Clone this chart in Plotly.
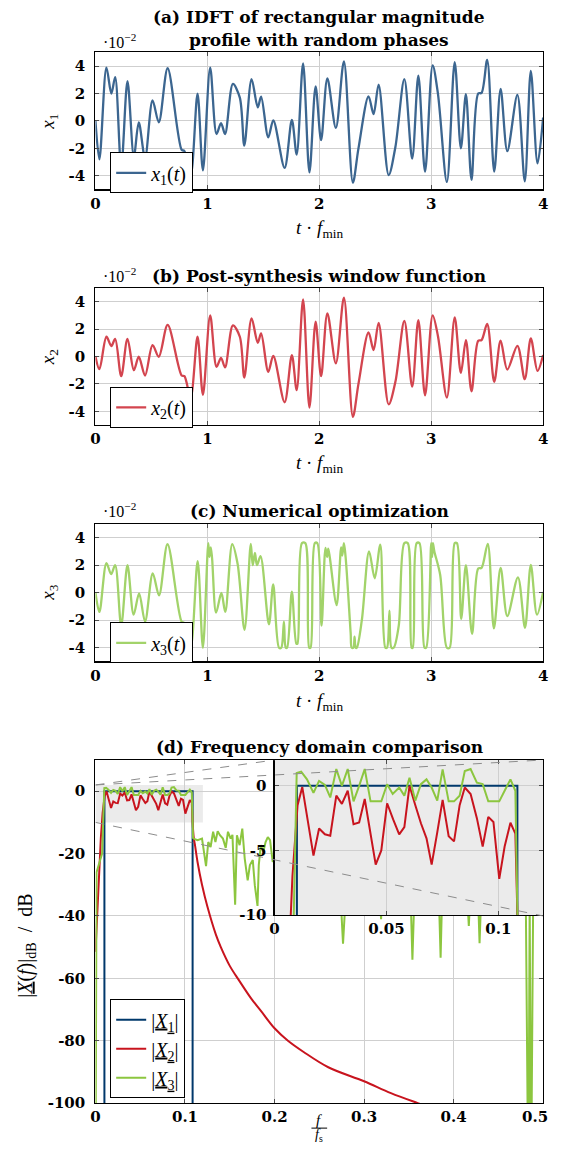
import plotly.graph_objects as go

# ---------------- data (time domain, values in units of 1e-2) ----------------
t12 = [0, 0.035, 0.098, 0.142, 0.176, 0.23, 0.286, 0.343, 0.387, 0.443, 0.51, 0.566, 0.645,
       0.77, 0.795, 0.85, 0.912, 0.96, 1.025, 1.082, 1.122, 1.158, 1.228, 1.29, 1.33, 1.395,
       1.45, 1.48, 1.544, 1.589, 1.69, 1.755, 1.798, 1.855, 1.912, 1.967, 2.016, 2.072, 2.148,
       2.22, 2.30, 2.35, 2.44, 2.485, 2.53, 2.62, 2.68, 2.76, 2.83, 2.885, 2.945, 3.013, 3.06,
       3.14, 3.21, 3.265, 3.31, 3.36, 3.42, 3.45, 3.50, 3.563, 3.62, 3.68, 3.77, 3.836, 3.89,
       3.95, 4.0]
x1 = [0, -2.8, 3.9, 2.0, 3.2, -3.4, 2.9, -2.6, -0.1, -2.7, 1.5, -0.1, 3.85,
      -2.1, -2.2, -4.0, 2.0, -3.6, 3.9, -0.95, -0.15, -0.95, 2.7, 1.7, -1.8, 3.05,
      1.0, 1.78, -1.2, 0.05, -3.42, 0.08, -2.45, 4.2, -3.75, 2.52, -1.4, 3.1, -0.5,
      4.35, -4.5, -2.0, 1.8, 0.5, 2.65, -3.95, -1.9, 3.05, -2.75, 3.3, -3.7, 4.05, 2.0,
      -4.45, 4.3, -2.0, 1.95, -4.3, 2.0, 2.05, 4.45, -3.7, 2.35, -2.2, 1.9, -4.4, 3.65,
      -3.1, 0.25]
x2 = [0, -0.93, 1.44, 0.76, 1.29, -1.44, 1.29, -1.0, -0.02, -1.39, 0.83, -0.02, 2.3,
      -1.39, -1.44, -3.0, 1.44, -2.8, 3.0, -0.76, -0.1, -0.8, 2.27, 1.44, -1.54, 2.78,
      1.0, 1.68, -1.12, 0.05, -3.34, 0.1, -2.46, 4.17, -3.73, 2.54, -1.44, 3.15, -0.5,
      4.3, -4.4, -2.0, 1.76, 0.46, 2.46, -3.5, -1.85, 2.59, -2.2, 2.66, -2.83, 3.0, 1.5,
      -3.0, 2.85, -1.2, 1.2, -2.54, 1.15, 1.2, 2.37, -1.85, 1.15, -0.95, 0.78, -1.66, 1.32,
      -1.05, 0.1]

t3 = [0, 0.035, 0.098, 0.14, 0.176, 0.23, 0.286, 0.341, 0.39, 0.443, 0.512, 0.568, 0.644,
      0.77, 0.795, 0.85, 0.913, 0.96, 1.008, 1.018, 1.03, 1.042, 1.078, 1.125, 1.16, 1.222,
      1.27, 1.332, 1.388, 1.405, 1.425, 1.443, 1.475, 1.55, 1.588, 1.64, 1.66, 1.684, 1.70,
      1.712, 1.755, 1.795, 1.805, 1.845, 1.875, 1.91, 1.922, 1.96, 1.982, 2.02, 2.055, 2.07,
      2.08, 2.095, 2.155, 2.195, 2.205, 2.22, 2.235, 2.28, 2.29, 2.305, 2.315, 2.325, 2.335,
      2.38, 2.445, 2.495, 2.545, 2.59, 2.605, 2.627, 2.645, 2.665, 2.71, 2.76, 2.79, 2.825,
      2.835, 2.87, 2.895, 2.94, 2.955, 3.0, 3.008, 3.015, 3.028, 3.08, 3.14, 3.165, 3.21,
      3.23, 3.268, 3.31, 3.365, 3.42, 3.45, 3.505, 3.56, 3.62, 3.68, 3.775, 3.838, 3.89,
      3.945, 4.0]
x3 = [0, -1.4, 2.15, 1.35, 2.0, -2.4, 2.0, -1.6, -0.05, -2.1, 1.4, -0.2, 3.52,
      -2.1, -2.2, -4.0, 2.3, -4.0, 3.6, 2.6, 3.3, 2.5, -1.45, -0.02, -1.4, 3.52,
      2.1, -2.7, 3.55, 2.0, 2.9, 2.0, 2.65, -2.3, 0.6, -4.0, -4.0, -2.1, -4.0,
      -4.0, 0.08, -3.7, -3.7, 3.6, 3.6, -4.0, -4.0, 3.6, 3.6, -2.4, 3.25, 2.6,
      3.2, 2.5, -0.9, 3.3, 2.7, 3.6, 2.6, -2.9, -4.0, -4.0, -3.2, -4.0, -4.0,
      -2.0, 3.0, 1.05, 3.5, -4.0, -4.0, -1.3, -4.0, -4.0, -2.4, 3.6, 3.6, -4.0,
      -4.0, 3.6, 3.6, -4.0, -4.0, 3.6, 2.6, 3.6, 3.0, 1.3, -4.0, -4.0, 3.6,
      3.6, -1.9, 2.0, -3.0, 1.75, 1.8, 3.55, -2.6, 1.8, -1.7, 1.12, -2.55, 2.02,
      -1.6, 0.05]

# ---------------- data (frequency domain, dB) ----------------
f_X1 = [0.0100, 0.0100, 0.1085, 0.1085]
db_X1 = [-300, 0, 0, -300]

# |X2| in-band / rising edge (piecewise straight as drawn)
f_X2 = [0, 0.002, 0.004, 0.006, 0.008, 0.0095, 0.0103, 0.0124, 0.0145, 0.0174, 0.0199,
        0.0225, 0.0249, 0.0276, 0.0301, 0.0327, 0.0353, 0.0378, 0.0403, 0.0428, 0.0452,
        0.0477, 0.0503, 0.0530, 0.0557, 0.0580, 0.0603, 0.0629, 0.0654, 0.0679, 0.0702,
        0.0727, 0.0751, 0.0778, 0.0802, 0.0827, 0.0850, 0.0876, 0.0904, 0.0930, 0.0955,
        0.0978, 0.1004, 0.1028, 0.1054, 0.1076, 0.1085]
db_X2 = [-51.5, -38, -25, -15, -7, -3, -1.5, -0.1, -2.2, -5.4, -3.3,
         -3.75, -3.86, -0.76, -1.4, -0.38, -2.97, -2.84, -1.02, -3.6, -6.1,
         -5.0, -1.35, -2.6, -3.76, -3.2, 0.0, -1.5, -2.9, -4.06, -6.1,
         -3.6, -1.09, -3.9, -4.3, -1.5, -0.13, -0.63, -2.5, -4.7, -2.4,
         -2.8, -7.2, -4.7, -2.86, -3.7, -10]
# |X2| smooth roll-off above the band
f_X2_roll = [0.1085, 0.1098, 0.111, 0.114, 0.119, 0.125, 0.1345, 0.140, 0.150, 0.160, 0.174,
             0.185, 0.200, 0.215, 0.2325, 0.260, 0.300, 0.330, 0.360, 0.420, 0.500]
db_X2_roll = [-10, -15, -17, -22.7, -30, -37, -46, -50, -56, -60.5, -66.5,
              -70.5, -76, -80, -83.6, -88.5, -93, -96.8, -100, -106, -112]

f_X3 = [0, 0.0012, 0.0074, 0.0099, 0.0119, 0.0145, 0.0174, 0.0199, 0.0225, 0.0249, 0.0276,
        0.0301, 0.0327, 0.0353, 0.0378, 0.0403, 0.0429, 0.0452, 0.0477, 0.0503, 0.0528,
        0.0557, 0.0580, 0.0603, 0.0629, 0.0654, 0.0679, 0.0702, 0.0727, 0.0751, 0.0778,
        0.0802, 0.0827, 0.0850, 0.0876, 0.0904, 0.0930, 0.0955, 0.0978, 0.1004, 0.1028,
        0.1054, 0.1076, 0.1090, 0.111, 0.114, 0.119, 0.121, 0.1235, 0.126, 0.1286, 0.1314,
        0.134, 0.1365, 0.139, 0.1424, 0.1455, 0.148, 0.151, 0.153, 0.156, 0.158, 0.161,
        0.164, 0.1667, 0.170, 0.1725, 0.1757, 0.178, 0.181, 0.1824, 0.1847, 0.1875, 0.190,
        0.1925, 0.195, 0.198, 0.203, 0.210, 0.218, 0.226, 0.234, 0.242, 0.250, 0.258, 0.266,
        0.272, 0.2765, 0.281, 0.288, 0.296, 0.304, 0.312, 0.316, 0.319, 0.322, 0.330, 0.338,
        0.346, 0.351, 0.354, 0.357, 0.364, 0.372, 0.380, 0.383, 0.3855, 0.388, 0.396, 0.404,
        0.410, 0.414, 0.417, 0.420, 0.426, 0.429, 0.432, 0.440, 0.448, 0.456, 0.464, 0.472,
        0.4805, 0.4835, 0.485, 0.4865, 0.489, 0.494, 0.500]
db_X3 = [-130, -26, -20, 1.0, 1.1, 0.5, -0.55, 0.38, 0.08, -0.9, 1.3,
         0.0, 1.3, -1.2, 0.0, 1.3, -1.2, -1.2, -1.2, 0.12, -0.63,
         -0.13, -0.76, 0.63, -1.14, 0.13, 0.5, -0.13, -1.14, 1.27, -1.2,
         -1.2, -0.76, 1.14, 1.3, 0.25, 0.13, -1.2, -1.2, -1.2, -0.38,
         0.5, -0.38, -15.0, -15.4, -15.7, -15.2, -19.3, -24.0, -16.3, -17.9, -13.0,
         -16.3, -12.8, -14.1, -15.2, -18.2, -13.0, -15.2, -14.0, -36.4, -14.1, -17.3,
         -12.0, -21.6, -28.6, -23.7, -22.1, -30.2, -36.8, -23.7, -17.3, -19.5, -16.3,
         -14.7, -15.7, -22.7, -20, -26, -18, -28, -22, -30, -20, -25, -19,
         -24, -48.9, -26, -20, -30, -22, -27, -24, -41, -22, -28, -20,
         -30, -24, -54, -26, -22, -30, -25, -28, -53.4, -24, -20, -29,
         -23, -27, -43.2, -25, -22, -48.7, -24, -30, -21, -27, -23, -31,
         -30, -130, -35, -130, -30, -26, -25]

# ---------------- geometry helpers (target pixels -> paper) ----------------
# the page keeps its default 8px body margin, so the figure is sized to fit the window
M = 8
W, H = 563 - 2 * M, 1159 - 2 * M
KY = 0.99                               # small vertical correction measured on the page
def px(x): return (x - M) / W
def py(y): return 1 - (y / KY - M) / H
def pyp(y): return 1 - (y - M) / H     # raw page position (no correction)

XL, XR = px(92), px(548)
dom_a = [py(189), py(52.3)]
dom_b = [py(424), py(287.3)]
dom_c = [py(660), py(522.7)]
dom_d = [py(1100.7), py(758.3)]
dom_ix = [px(274.4), XR]
dom_iy = [py(913), py(758.3)]

SERIF = "DejaVu Serif"
MATH = "Liberation Serif"

c1, c2, c3 = "#3c6690", "#d3454f", "#a2d36a"
d1, d2, d3 = "#00386b", "#c8141e", "#8cc63f"

fig = go.Figure()

def line(color, w=2.3, spline=True):
    d = dict(color=color, width=w)
    if spline:
        d.update(shape="spline", smoothing=0.9)
    return d

fig.add_trace(go.Scatter(x=t12, y=x1, mode="lines", line=line(c1), xaxis="x", yaxis="y",
                         name="<i>x</i><sub>1</sub>(<i>t</i>)", legend="legend"))
fig.add_trace(go.Scatter(x=t12, y=x2, mode="lines", line=line(c2), xaxis="x2", yaxis="y2",
                         name="<i>x</i><sub>2</sub>(<i>t</i>)", legend="legend2"))
fig.add_trace(go.Scatter(x=t3, y=x3, mode="lines", line=line(c3), xaxis="x3", yaxis="y3",
                         name="<i>x</i><sub>3</sub>(<i>t</i>)", legend="legend3"))

names_d = ["|<u><i>X</i><sub>1</sub></u>|", "|<u><i>X</i><sub>2</sub></u>|",
           "|<u><i>X</i><sub>3</sub></u>|"]
for ax, ay, show in [("x4", "y4", True), ("x5", "y5", False)]:
    fig.add_trace(go.Scatter(x=f_X1, y=db_X1, mode="lines", line=dict(color=d1, width=2),
                             xaxis=ax, yaxis=ay, name=names_d[0], legend="legend4",
                             showlegend=show, legendrank=1))
    fig.add_trace(go.Scatter(x=f_X2, y=db_X2, mode="lines", line=dict(color=d2, width=2),
                             xaxis=ax, yaxis=ay, name=names_d[1], legend="legend4",
                             showlegend=show, legendrank=2))
    fig.add_trace(go.Scatter(x=f_X2_roll, y=db_X2_roll, mode="lines",
                             line=dict(color=d2, width=2, shape="spline", smoothing=1),
                             xaxis=ax, yaxis=ay, showlegend=False))
    fig.add_trace(go.Scatter(x=f_X3, y=db_X3, mode="lines", line=dict(color=d3, width=2),
                             xaxis=ax, yaxis=ay, name=names_d[2], legend="legend4",
                             showlegend=show, legendrank=3))

tickfont = dict(family=SERIF, size=15, color="black", weight="bold")

def axis(domain, anchor, rng, tv, tt, **kw):
    d = dict(domain=domain, anchor=anchor, range=rng, tickvals=tv, ticktext=tt,
             showline=True, linecolor="black", linewidth=1.2, mirror="ticks",
             ticks="inside", ticklen=4, tickcolor="#4d4d4d", tickwidth=1,
             showgrid=True, gridcolor="#cfcfcf", gridwidth=1, zeroline=False,
             tickfont=tickfont, fixedrange=True)
    d.update(kw)
    return d

xt = [0, 1, 2, 3, 4]
xtt = ["0", "1", "2", "3", "4"]
yt = [-4, -2, 0, 2, 4]
ytt = ["-4", "-2", "0", "2", "4"]

layout = dict(
    width=W, height=H, autosize=False, margin=dict(l=0, r=0, t=0, b=0, pad=0),
    paper_bgcolor="white", plot_bgcolor="white", hovermode=False,
    xaxis=axis([XL, XR], "y", [0, 4], xt, xtt),
    yaxis=axis(dom_a, "x", [-5, 5], yt, ytt, ticklabelstandoff=6),
    xaxis2=axis([XL, XR], "y2", [0, 4], xt, xtt),
    yaxis2=axis(dom_b, "x2", [-5, 5], yt, ytt, ticklabelstandoff=6),
    xaxis3=axis([XL, XR], "y3", [0, 4], xt, xtt),
    yaxis3=axis(dom_c, "x3", [-5, 5], yt, ytt, ticklabelstandoff=6),
    # the right-most label (0.5) would overflow the page edge; it is drawn as an annotation
    xaxis4=axis([XL, XR], "y4", [0, 0.5], [0, 0.1, 0.2, 0.3, 0.4, 0.5],
                ["0", "0.1", "0.2", "0.3", "0.4", ""]),
    yaxis4=axis(dom_d, "x4", [-100, 10], [-100, -80, -60, -40, -20, 0],
                ["-100", "-80", "-60", "-40", "-20", "0"], ticklabelstandoff=6),
    xaxis5=axis(dom_ix, "y5", [0, 0.12], [0, 0.05, 0.1], ["0", "0.05", "0.1"]),
    yaxis5=axis(dom_iy, "x5", [-10, 2], [-10, -5, 0], ["-10", "-5", "0"], ticklabelstandoff=4),
)

leg_common = dict(bgcolor="white", bordercolor="black", borderwidth=1, xanchor="left",
                  yanchor="top", font=dict(family=MATH, size=20, color="black"),
                  itemwidth=30, tracegroupgap=0)
layout["legend"] = dict(x=px(107), y=py(152), **leg_common)
layout["legend2"] = dict(x=px(107), y=py(386), **leg_common)
layout["legend3"] = dict(x=px(107), y=py(621), **leg_common)
layout["legend4"] = dict(x=px(107), y=py(997), traceorder="normal", **leg_common)

fig.update_layout(**layout)

# ---------------- annotations ----------------
tfont = dict(family=SERIF, size=17, color="black", weight="bold")
mfont = dict(family=MATH, size=19, color="black")
xc = (XL + XR) / 2
ann = []
def add(text, x, y, font, **kw):
    a = dict(text=text, x=x, y=y, xref="paper", yref="paper", showarrow=False, font=font,
             xanchor="center", yanchor="middle")
    a.update(kw)
    ann.append(a)

add("(a) IDFT of rectangular magnitude", xc, py(17), tfont)
add("profile with random phases", xc, py(40), tfont)
add("(b) Post-synthesis window function", xc, py(275), tfont)
add("(c) Numerical optimization", xc, py(510), tfont)
add("(d) Frequency domain comparison", xc, py(745), tfont)

for yy in [41, 274, 509]:
    add("·10<sup>−2</sup>", px(98), py(yy), dict(family=MATH, size=16, color="black"),
        xanchor="left")

for yy in [228, 463, 700]:
    add("<i>t</i> · <i>f</i><sub>min</sub>", xc, py(yy), mfont)

add("<i>x</i><sub>1</sub>", px(45), py(121), mfont, textangle=-90)
add("<i>x</i><sub>2</sub>", px(45), py(356), mfont, textangle=-90)
add("<i>x</i><sub>3</sub>", px(45), py(591), mfont, textangle=-90)
add("|<u><i>X</i></u>(<i>f</i>)|<sub>dB</sub>  /  dB", px(21), py(944),
    dict(family=MATH, size=20, color="black"), textangle=-90)
add("<b>0.5</b>", 1.0, py(1115), tickfont, xanchor="right")
add("<i>f</i>", xc, pyp(1129), dict(family=MATH, size=15, color="black"))
add("<i>f</i><sub>s</sub>", xc, pyp(1144.5), dict(family=MATH, size=14, color="black"))
fig.update_layout(annotations=ann)

# ---------------- shapes (zoom box, inset background, connectors) ----------------
dash = dict(color="#8c8c8c", width=1, dash="dash")
shapes = [
    dict(type="rect", xref="x4", yref="y4", x0=0, x1=0.12, y0=-10, y1=2,
         fillcolor="#ebebeb", line=dict(width=0), layer="below"),
    dict(type="rect", xref="x5", yref="y5", x0=0, x1=0.12, y0=-10, y1=2,
         fillcolor="#ebebeb", line=dict(width=0), layer="below"),
    dict(type="line", xref="x4", yref="y4", x0=0, y0=2, x1=0.5, y1=10, line=dash,
         layer="above"),
    dict(type="line", xref="x4", yref="y4", x0=0, y0=2, x1=0.2, y1=10, line=dash,
         layer="above"),
    dict(type="line", xref="x4", yref="y4", x0=0, y0=-10, x1=0.5, y1=-40, line=dash,
         layer="above"),
    dict(type="line", xref="paper", yref="paper", x0=xc - 8 / W, x1=xc + 8 / W,
         y0=pyp(1137), y1=pyp(1137), line=dict(color="black", width=1)),
]
fig.update_layout(shapes=shapes)

fig.write_html("out.html",
               config={"responsive": False, "displayModeBar": False, "staticPlot": True})
